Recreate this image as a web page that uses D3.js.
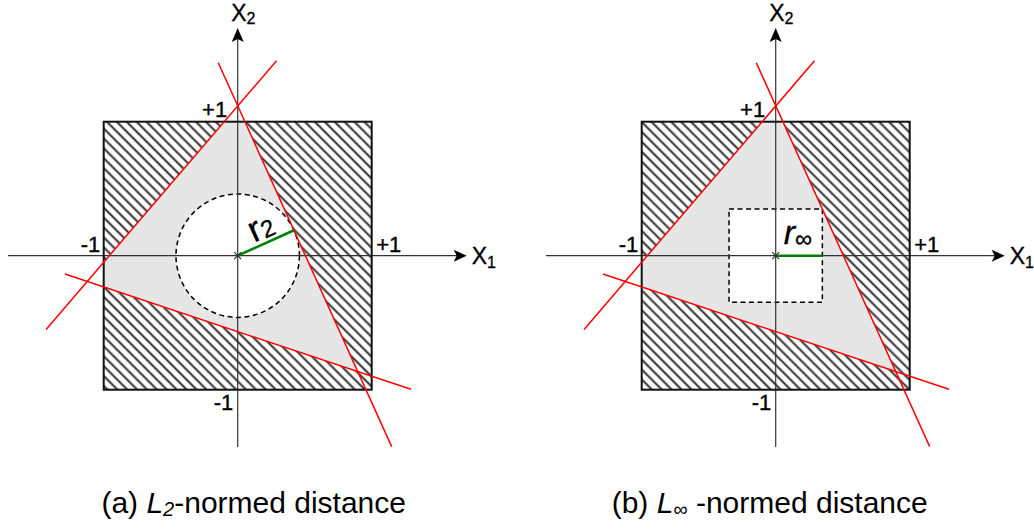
<!DOCTYPE html>
<html>
<head>
<meta charset="utf-8">
<script src="https://cdn.jsdelivr.net/npm/d3@7"></script>
<style>
  body { margin: 0; background: #fff; }
  svg { display: block; }
  text { font-family: "Liberation Sans", Arial, Helvetica, sans-serif; fill: #000; }
</style>
</head>
<body>
<svg id="chart" width="1034" height="529"></svg>
<script>
// Feasible box and the three red constraint lines (data units, two points each)
var boxRange = [-1, 1];
var axisX = [-1.714, 1.709];
var axisY = [-1.428, 1.699];
var redLines = [
    [[-1.43, -0.55], [0.29, 1.455]],
    [[-0.145, 1.44], [1.149, -1.425]],
    [[-1.289, -0.137], [1.293, -0.997]]
];
var tickLabels = [
    {text: '+1', x: 0, y: 1, pos: 'top'},
    {text: '-1', x: -1, y: 0, pos: 'left'},
    {text: '+1', x: 1, y: 0, pos: 'right'},
    {text: '-1', x: 0, y: -1, pos: 'bottom'}
];
var panels = [
    {id: 'a', norm: 'L2', offset: 0, caption: '(a) ', sub: '2'},
    {id: 'b', norm: 'Linf', offset: 538, caption: '(b) ', sub: '\u221e'}
];

var svg = d3.select('#chart');
var defs = svg.append('defs');

// diagonal hatch "\\\\"
var pat = defs.append('pattern')
    .attr('id', 'hatch')
    .attr('patternUnits', 'userSpaceOnUse')
    .attr('width', 7).attr('height', 7)
    .attr('patternTransform', 'rotate(-45)');
pat.append('rect').attr('width', 7).attr('height', 7).attr('fill', '#fff');
pat.append('line').attr('x1', 3.5).attr('x2', 3.5).attr('y1', 0).attr('y2', 7)
    .attr('stroke', '#222').attr('stroke-width', 1.9);

// helpers: line as a*x + b*y = c
function coef(l) {
    var p = l[0], q = l[1];
    var a = q[1] - p[1], b = p[0] - q[0];
    return {a: a, b: b, c: a * p[0] + b * p[1]};
}
function intersect(l1, l2) {
    var m = coef(l1), n = coef(l2);
    var det = m.a * n.b - n.a * m.b;
    return [(m.c * n.b - n.c * m.b) / det, (m.a * n.c - n.a * m.c) / det];
}
var triangle = [intersect(redLines[0], redLines[1]),
                intersect(redLines[1], redLines[2]),
                intersect(redLines[2], redLines[0])];

function drawPanel(p) {
    var x = d3.scaleLinear().domain(boxRange).range([103.7 + p.offset, 371.7 + p.offset]);
    var y = d3.scaleLinear().domain(boxRange).range([389.7, 121.7]);
    var g = svg.append('g');

    defs.append('clipPath').attr('id', 'clip-' + p.id)
        .append('rect')
        .attr('x', x(-1)).attr('y', y(1))
        .attr('width', x(1) - x(-1)).attr('height', y(-1) - y(1));

    // hatched box
    g.append('rect')
        .attr('x', x(-1)).attr('y', y(1))
        .attr('width', x(1) - x(-1)).attr('height', y(-1) - y(1))
        .attr('fill', 'url(#hatch)');

    // feasible region (gray)
    g.append('path')
        .attr('clip-path', 'url(#clip-' + p.id + ')')
        .attr('d', d3.line().x((d) => x(d[0])).y((d) => y(d[1]))(triangle) + 'Z')
        .attr('fill', '#e6e6e6');

    // largest inscribed ball
    var cs = redLines.map(coef);
    var tangent;
    if (p.norm === 'L2') {
        var best = d3.least(cs, (c) => Math.abs(c.c) / Math.hypot(c.a, c.b));
        var r = Math.abs(best.c) / Math.hypot(best.a, best.b);
        var k = best.c / (best.a * best.a + best.b * best.b);
        tangent = [best.a * k, best.b * k];
        g.append('circle')
            .attr('cx', x(0)).attr('cy', y(0))
            .attr('r', x(r) - x(0))
            .attr('fill', '#fff')
            .attr('stroke', '#000').attr('stroke-width', 1.5)
            .attr('stroke-dasharray', '5,3.5');
    } else {
        var rInf = d3.min(cs, (c) => Math.abs(c.c) / (Math.abs(c.a) + Math.abs(c.b)));
        tangent = [rInf, 0];
        g.append('rect')
            .attr('x', x(-rInf)).attr('y', y(rInf))
            .attr('width', x(rInf) - x(-rInf)).attr('height', y(-rInf) - y(rInf))
            .attr('fill', '#fff')
            .attr('stroke', '#000').attr('stroke-width', 1.5)
            .attr('stroke-dasharray', '5,3.5');
    }

    // axes
    var axisColor = '#333';
    g.append('line')
        .attr('x1', x(axisX[0])).attr('x2', x(axisX[1]) - 8)
        .attr('y1', y(0)).attr('y2', y(0))
        .attr('stroke', axisColor).attr('stroke-width', 1.2);
    g.append('line')
        .attr('x1', x(0)).attr('x2', x(0))
        .attr('y1', y(axisY[0])).attr('y2', y(axisY[1]) + 8)
        .attr('stroke', axisColor).attr('stroke-width', 1.2);
    // arrow heads
    var tipX = [x(axisX[1]), y(0)];
    g.append('path')
        .attr('d', 'M' + tipX[0] + ',' + tipX[1] + 'l-13,-6l3,6l-3,6z')
        .attr('fill', '#000');
    var tipY = [x(0), y(axisY[1])];
    g.append('path')
        .attr('d', 'M' + tipY[0] + ',' + tipY[1] + 'l-6,14l6,-3l6,3z')
        .attr('fill', '#000');

    // box outline
    g.append('rect')
        .attr('x', x(-1)).attr('y', y(1))
        .attr('width', x(1) - x(-1)).attr('height', y(-1) - y(1))
        .attr('fill', 'none').attr('stroke', '#111').attr('stroke-width', 2);

    // red constraint lines
    g.selectAll('line.red').data(redLines).enter().append('line')
        .classed('red', true)
        .attr('x1', (d) => x(d[0][0])).attr('y1', (d) => y(d[0][1]))
        .attr('x2', (d) => x(d[1][0])).attr('y2', (d) => y(d[1][1]))
        .attr('stroke', '#f00').attr('stroke-width', 1.5);

    // radius
    g.append('line')
        .attr('x1', x(0)).attr('y1', y(0))
        .attr('x2', x(tangent[0])).attr('y2', y(tangent[1]))
        .attr('stroke', '#008000').attr('stroke-width', 2.6);

    // centre mark
    g.append('path')
        .attr('d', 'M' + (x(0) - 3.5) + ',' + (y(0) - 3.5) + 'l7,7m0,-7l-7,7')
        .attr('stroke', '#333').attr('stroke-width', 1.2);

    // radius label
    if (p.norm === 'L2') {
        var mx = (x(0) + x(tangent[0])) / 2, my = (y(0) + y(tangent[1])) / 2;
        var ang = Math.atan2(y(tangent[1]) - y(0), x(tangent[0]) - x(0)) * 180 / Math.PI;
        var t = g.append('text')
            .attr('transform', 'translate(' + mx + ',' + my + ') rotate(' + ang + ')')
            .attr('x', 2).attr('y', -5)
            .attr('text-anchor', 'middle')
            .attr('stroke', '#000').attr('stroke-width', 0.3);
        t.append('tspan').attr('font-size', 36).text('r');
        t.append('tspan').attr('font-size', 24).attr('dy', 1).text('2');
    } else {
        var t2 = g.append('text').attr('x', x(0) + 8).attr('y', y(0) - 12)
            .attr('stroke', '#000').attr('stroke-width', 0.3);
        t2.append('tspan').attr('font-size', 34).attr('font-style', 'italic').text('r');
        t2.append('tspan').attr('font-size', 24).attr('dy', 3).text('\u221e');
    }

    // tick labels
    g.selectAll('text.tick').data(tickLabels).enter().append('text')
        .classed('tick', true)
        .attr('font-size', 22)
        .attr('stroke', '#000').attr('stroke-width', 0.35)
        .attr('text-anchor', (d) => d.pos === 'right' ? 'start' : 'end')
        .attr('x', (d) => x(d.x) + ({top: -10.5, left: -3.5, right: 4.5, bottom: -4.5})[d.pos])
        .attr('y', (d) => y(d.y) + ({top: -4.7, left: -3.5, right: -3.5, bottom: 20.3})[d.pos])
        .text((d) => d.text);

    // axis names
    var ax2 = g.append('text').attr('x', x(0) - 6.5).attr('y', 21)
        .attr('stroke', '#000').attr('stroke-width', 0.3);
    ax2.append('tspan').attr('font-size', 23).text('X');
    ax2.append('tspan').attr('font-size', 16).attr('dy', 3).text('2');
    var ax1 = g.append('text').attr('x', tipX[0] + 5).attr('y', y(0) + 8)
        .attr('stroke', '#000').attr('stroke-width', 0.3);
    ax1.append('tspan').attr('font-size', 23).text('X');
    ax1.append('tspan').attr('font-size', 16).attr('dy', 4).text('1');

    // caption
    var cap = g.append('text')
        .attr('x', x(0) + (p.id === 'a' ? 16 : -6)).attr('y', 513)
        .attr('text-anchor', 'middle')
        .attr('font-size', 30);
    cap.append('tspan').text(p.caption);
    cap.append('tspan').attr('font-style', 'italic').text('L');
    cap.append('tspan').attr('font-style', 'italic').attr('font-size', 20).attr('dy', 3).text(p.sub);
    cap.append('tspan').attr('dy', -3).text((p.norm === 'Linf' ? ' ' : '') + '-normed distance');
}

panels.forEach(drawPanel);
</script>
</body>
</html>
